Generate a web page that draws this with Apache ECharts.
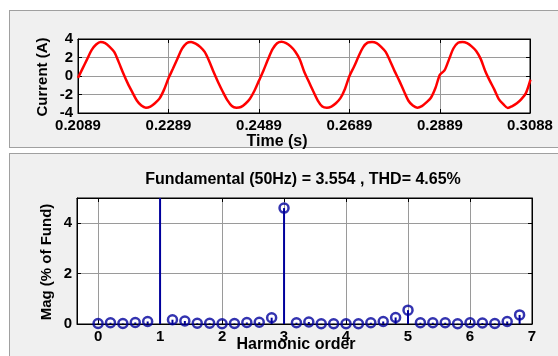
<!DOCTYPE html>
<html>
<head>
<meta charset="utf-8">
<script src="https://cdn.jsdelivr.net/npm/echarts@6/dist/echarts.min.js"></script>
<style>
  html, body { margin: 0; padding: 0; background: #fff; }
  .panel { position: absolute; left: 9px; width: 560px; background: #f0f0f0; border: 1px solid #a0a0a0; box-sizing: border-box; }
  #chart { position: absolute; left: 0; top: 0; width: 558px; height: 356px; }
</style>
</head>
<body>
<div class="panel" style="top:10px;height:138px"></div>
<div class="panel" style="top:153px;height:210px"></div>
<div id="chart"></div>
<script>
// 时间波形: 从 0.2089 s 开始, 每 1 ms 一个采样点
const timeStart = 0.2089
const sampleStep = 0.001
const timeTicks = [0.2089, 0.2289, 0.2489, 0.2689, 0.2889, 0.3088]
const currentTicks = [-4, -2, 0, 2, 4]
const current = [
  -0.2, 0.8, 1.8, 2.8, 3.4, 3.68, 3.55, 3.15, 2.6, 1.5, 0.3, -0.8, -1.75, -2.65, -3.2, -3.42, -3.3, -2.95, -2.45, -1.5,
  -0.25, 0.8, 1.9, 2.95, 3.55, 3.68, 3.5, 3.15, 2.6, 1.6, 0.4, -0.7, -1.7, -2.6, -3.25, -3.42, -3.35, -3.0, -2.45, -1.6,
  -0.5, 0.6, 1.8, 2.9, 3.55, 3.7, 3.55, 3.2, 2.65, 1.8, 0.45, -0.6, -1.65, -2.65, -3.3, -3.42, -3.3, -2.95, -2.4, -1.4,
  0.0, 1.0, 2.1, 3.1, 3.6, 3.68, 3.55, 3.15, 2.6, 1.6, 0.5, -0.5, -1.6, -2.65, -3.2, -3.42, -3.25, -2.85, -2.35, -1.3,
  0.15, 0.6, 1.8, 3.0, 3.6, 3.68, 3.55, 3.2, 2.7, 1.85, 0.55, -0.5, -1.45, -2.5, -3.05, -3.45, -3.25, -2.95, -2.5, -1.85,
  -0.4
]

// 谐波频谱 (% of Fund)
const harmonicOrder = [0, 0.2, 0.4, 0.6, 0.8, 1.0, 1.2, 1.4, 1.6, 1.8, 2.0, 2.2, 2.4, 2.6, 2.8, 3.0, 3.2, 3.4,
  3.6, 3.8, 4.0, 4.2, 4.4, 4.6, 4.8, 5.0, 5.2, 5.4, 5.6, 5.8, 6.0, 6.2, 6.4, 6.6, 6.8]
const magnitude = [0.02, 0.05, 0.02, 0.06, 0.1, 100, 0.17, 0.12, 0.03, 0.03, 0.01, 0.02, 0.06, 0.07, 0.25, 4.6, 0.05, 0.08,
  0.01, 0.01, 0.01, 0.01, 0.05, 0.1, 0.26, 0.55, 0.05, 0.05, 0.05, 0.01, 0.05, 0.04, 0.02, 0.1, 0.36]
const harmonicTicks = [0, 1, 2, 3, 4, 5, 6, 7]
const magTicks = [0, 2, 4]

const titleText = 'Fundamental (50Hz) = 3.554 , THD= 4.65%'

const font = 'Liberation Sans, Arial, sans-serif'
const stemColor = '#00009c'

const waveData = current.map((v, i) => [timeStart + i * sampleStep, v])
const spectrumData = harmonicOrder.map((h, i) => [h, magnitude[i]])

// 主坐标轴 (有标签和网格线)
function mainAxis(gridIndex, position, min, max, ticks, fmt) {
  return {
    type: 'value', gridIndex, position, min, max,
    axisLine: { show: true, onZero: false, lineStyle: { color: '#000', width: 1 } },
    axisTick: { show: true, inside: true, length: 4, customValues: ticks, lineStyle: { color: '#000' } },
    axisLabel: {
      show: true, customValues: ticks, formatter: fmt,
      color: '#000', fontFamily: font, fontWeight: 'bold', fontSize: 15, margin: 5
    },
    splitLine: { show: true, lineStyle: { color: '#9a9a9a', width: 1 } }
  }
}

// 镜像坐标轴 (只画刻度)
function mirrorAxis(gridIndex, position, min, max, ticks) {
  return {
    type: 'value', gridIndex, position, min, max,
    axisLine: { show: true, onZero: false, lineStyle: { color: '#000', width: 1 } },
    axisTick: { show: true, inside: true, length: 4, customValues: ticks, lineStyle: { color: '#000' } },
    axisLabel: { show: false },
    splitLine: { show: false }
  }
}

const chart = echarts.init(document.getElementById('chart'), null, { renderer: 'canvas' })

const option = {
  animation: false,
  backgroundColor: 'transparent',
  grid: [
    { left: 78, top: 39, width: 452, height: 74, show: true, backgroundColor: '#fff', borderColor: '#000', borderWidth: 1 },
    { left: 77, top: 198, width: 455, height: 126, show: true, backgroundColor: '#fff', borderColor: '#000', borderWidth: 1 }
  ],
  xAxis: [
    mainAxis(0, 'bottom', 0.2089, 0.3088, timeTicks, v => v.toFixed(4)),
    mirrorAxis(0, 'top', 0.2089, 0.3088, timeTicks),
    mainAxis(1, 'bottom', -0.34, 7, harmonicTicks, v => String(v)),
    mirrorAxis(1, 'top', -0.34, 7, harmonicTicks)
  ],
  yAxis: [
    mainAxis(0, 'left', -4, 4, currentTicks, v => String(v)),
    mirrorAxis(0, 'right', -4, 4, currentTicks),
    mainAxis(1, 'left', 0, 5, magTicks, v => String(v)),
    mirrorAxis(1, 'right', 0, 5, magTicks)
  ],
  graphic: [
    {
      type: 'text', x: 43, y: 77, rotation: Math.PI / 2,
      style: { text: 'Current (A)', align: 'center', verticalAlign: 'middle', font: 'bold 15px ' + font, fill: '#000' }
    },
    {
      type: 'text', x: 277, y: 142,
      style: { text: 'Time (s)', align: 'center', verticalAlign: 'middle', font: 'bold 16px ' + font, fill: '#000' }
    },
    {
      type: 'text', x: 303, y: 180,
      style: { text: titleText, align: 'center', verticalAlign: 'middle', font: 'bold 16px ' + font, fill: '#000' }
    },
    {
      type: 'text', x: 47, y: 262, rotation: Math.PI / 2,
      style: { text: 'Mag (% of Fund)', align: 'center', verticalAlign: 'middle', font: 'bold 15px ' + font, fill: '#000' }
    },
    {
      type: 'text', x: 296, y: 345,
      style: { text: 'Harmonic order', align: 'center', verticalAlign: 'middle', font: 'bold 16px ' + font, fill: '#000' }
    }
  ],
  series: [
    {
      type: 'line', xAxisIndex: 0, yAxisIndex: 0,
      data: waveData, showSymbol: false, clip: true, smooth: 0.3,
      lineStyle: { color: '#ff0000', width: 2.5 }
    },
    {
      type: 'bar', xAxisIndex: 2, yAxisIndex: 2,
      data: spectrumData, barWidth: 2, clip: true,
      itemStyle: { color: stemColor }
    },
    {
      type: 'scatter', xAxisIndex: 2, yAxisIndex: 2,
      data: spectrumData, clip: true,
      symbol: 'circle', symbolSize: 9,
      itemStyle: { color: 'transparent', borderColor: stemColor, borderWidth: 2.5 }
    }
  ]
}

chart.setOption(option)
window.addEventListener('resize', () => chart.resize())
</script>
</body>
</html>
